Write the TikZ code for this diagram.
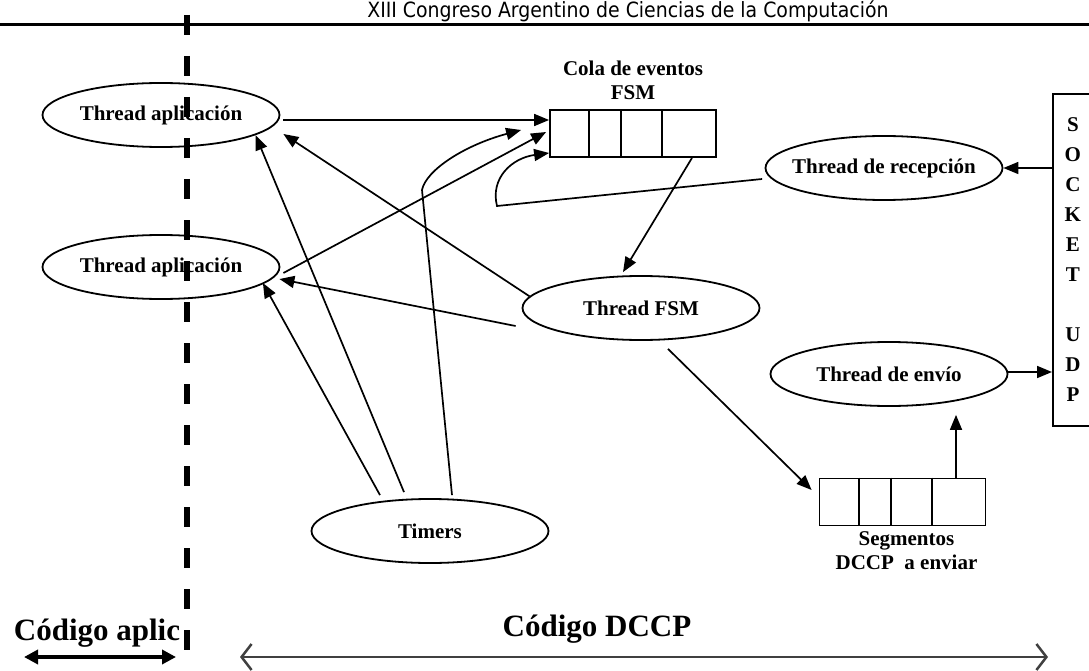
\documentclass[tikz,border=0pt]{standalone}
\usepackage{fontspec}
\setmainfont{Liberation Serif}
\newfontfamily\cabecera{DejaVu Sans Condensed}
\usetikzlibrary{arrows.meta, calc, positioning, shapes.geometric}

\begin{document}
\begin{tikzpicture}[x=1pt, y=-1pt,
      font=\bfseries\fontsize{21}{24}\selectfont,
      hilo/.style={draw, ellipse, line width=1.8pt, minimum width=237pt,
                  minimum height=64pt, inner xsep=-15pt, inner ysep=0pt},
      cola/.style={draw, line width=1.8pt, minimum width=166pt,
                  minimum height=47pt, inner sep=0pt},
      arr/.style={-{Triangle[length=15pt, width=12pt]}, line width=1.7pt},
      etq/.style={align=center, inner sep=0pt},
      grande/.style={anchor=base, inner sep=0pt, font=\bfseries\fontsize{31}{34}\selectfont}]
    \useasboundingbox (0,0) rectangle (1089,671);
    % cabecera
    \node[anchor=base, inner sep=0pt, font=\cabecera\fontsize{21}{24}\selectfont] (titulo) at (628,18)
      {XIII Congreso Argentino de Ciencias de la Computación};
    \draw[line width=3pt] (0,25) -- (1089,25);
    % hilos
    \node[hilo] (app1) at (161,115) {Thread aplicación};
    \node[hilo] (app2) at (161,267) {Thread aplicación};
    \node[hilo] (fsm) at (641,308) {Thread FSM};
    \node[hilo] (recep) at (884,168) {Thread de recepción};
    \node[hilo] (envio) at (889,374) {Thread de envío};
    \node[hilo] (timers) at (430,531) {Timers};
    % colas
    \node[cola] (cola) at (633,133.5) {};
    \node[cola] (segm) at (902.5,502) {};
    \foreach \d in {40,72,113} {
      \draw[line width=1.8pt] ([xshift=\d pt]cola.north west) -- ([xshift=\d pt]cola.south west);
      \draw[line width=1.8pt] ([xshift=\d pt]segm.north west) -- ([xshift=\d pt]segm.south west);
    }
    \node[etq, above=9pt of cola] (colaetq) {Cola de eventos\\FSM};
    \node[etq, below=5pt of segm, xshift=4pt] (segmetq) {Segmentos\\DCCP~ a enviar};
    \node[draw, line width=1.8pt, anchor=north west, minimum width=40pt, minimum height=332pt,
          align=center, font=\bfseries\fontsize{21}{30}\selectfont] (socket) at (1052,93)
      {S\\O\\C\\K\\E\\T\\[30pt]U\\D\\P};
    \coordinate (codo) at (422,190);
    \coordinate (giro) at (497,206);
    % flechas
    \draw[arr] ([shift={(3pt,-5pt)}]app1.east) -- ([yshift=13.5pt]cola.west);
    \draw[arr] ([shift={(3pt,-6pt)}]app2.east) -- ([shift={(-3pt,1.5pt)}]cola.west);
    \draw[arr] (fsm.174) -- ([shift={(3pt,-19pt)}]app1.east);
    \draw[arr] ([shift={(-6pt,-18pt)}]fsm.west) -- ([shift={(-1pt,-12pt)}]app2.east);
    \draw[arr] ([shift={(-26pt,6pt)}]timers.north) -- (app1.-12);
    \draw[arr] ([shift={(-50pt,3pt)}]timers.north) -- ([shift={(-17.5pt,-16pt)}]app2.east);
    \draw[arr] ([shift={(22pt,3pt)}]timers.north) -- (codo)
      .. controls (426,170) and (465,145) .. ([shift={(-28pt,3.5pt)}]cola.west);
    \draw[arr] ([shift={(-2.5pt,-11pt)}]recep.west) -- (giro)
      .. controls (490,178) and (512,158) .. ([yshift=-19.5pt]cola.west);
    \draw[arr] ([xshift=59pt]cola.south) -- ([shift={(-18pt,3pt)}]fsm.north);
    \draw[arr] ([shift={(27pt,-8pt)}]fsm.south) -- ([shift={(-7pt,12pt)}]segm.west);
    \draw[arr] ([xshift=53.5pt]segm.north) -- ([shift={(67pt,-8pt)}]envio.south);
    \draw[arr] ([yshift=2pt]envio.east) -- ([yshift=2pt]envio.east -| socket.west);
    \draw[arr] (recep.east -| socket.west) -- (recep.east);
    % pie
    \node[grande] (codapl) at (97,640) {Código aplic};
    \node[grande] (coddccp) at (597,636) {Código DCCP};
    \coordinate (ai) at (24,657);
    \coordinate (ad) at (176,657);
    \coordinate (bi) at (240,657);
    \coordinate (bd) at (1048,657);
    \draw[line width=3.5pt, {Triangle[length=14pt, width=14pt]}-{Triangle[length=14pt, width=14pt]}] (ai) -- (ad);
    \draw[line width=2.5pt, black!75, {Straight Barb[length=10pt, width=26pt]}-{Straight Barb[length=10pt, width=26pt]}] (bi) -- (bd);
    % separador
    \draw[line width=6pt, dash pattern=on 20pt off 21pt] (187,15) -- (187,671);
  \end{tikzpicture}
\end{document}
